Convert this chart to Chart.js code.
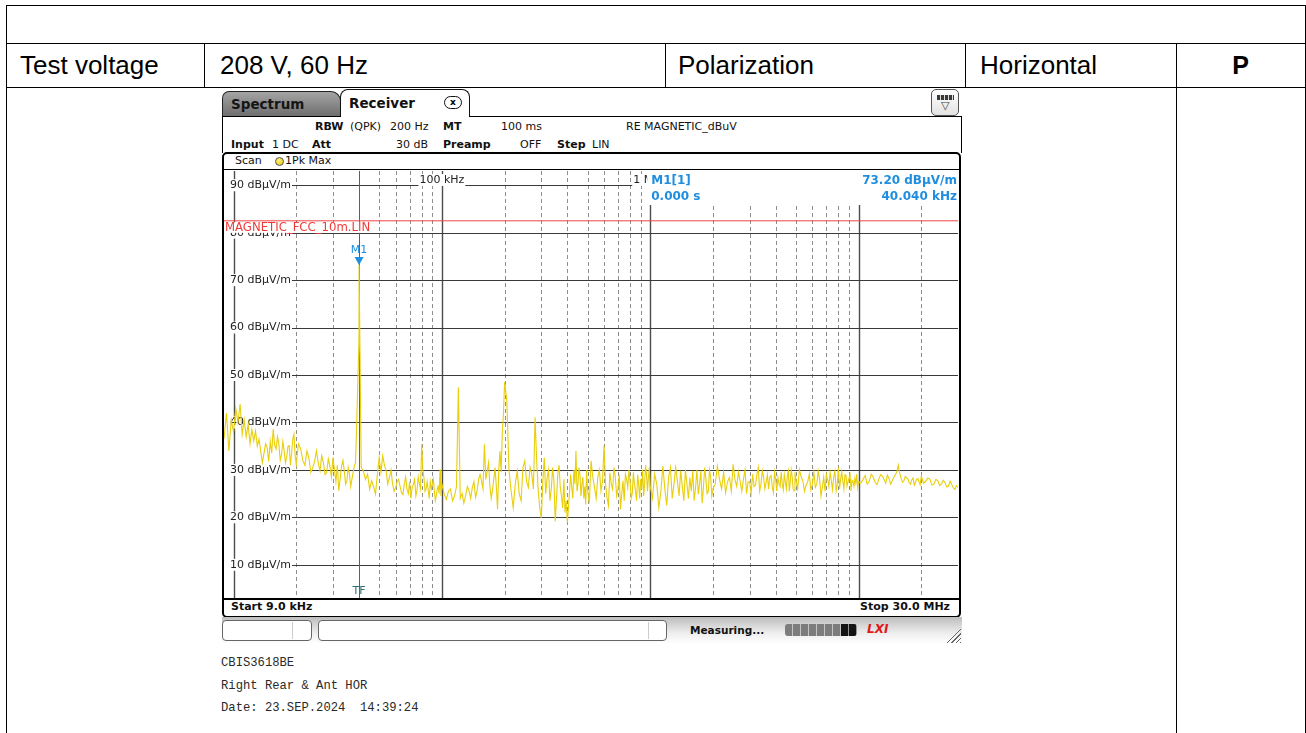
<!DOCTYPE html>
<html>
<head>
<meta charset="utf-8">
<title>RE magnetic scan</title>
<script src="https://cdn.jsdelivr.net/npm/chart.js@4.4.1/dist/chart.umd.min.js"></script>
<style>
  html, body { margin: 0; padding: 0; background: #fff; }
  body { position: relative; width: 1306px; height: 733px; overflow: hidden; }
  .rule { position: absolute; background: #000; }
  .cell { position: absolute; font: 26px/30px "Liberation Sans", Arial, sans-serif; color: #000; white-space: nowrap; }
  .ui { position: absolute; font: 11px/14px "DejaVu Sans", Verdana, sans-serif; color: #111; white-space: nowrap; }
  .ui.b { font-weight: bold; }
  .note { position: absolute; left: 221px; font: 12.2px/14px "Liberation Mono", "Courier New", monospace; color: #2a2a2a; white-space: pre; }
  .box { position: absolute; box-sizing: border-box; }
  #plot { position: absolute; left: 224px; top: 171px; }
</style>
</head>
<body>

<!-- report table -->
<div class="rule" style="left:6px;top:5px;width:1300px;height:1px"></div>
<div class="rule" style="left:6px;top:43px;width:1300px;height:1px"></div>
<div class="rule" style="left:6px;top:87px;width:1300px;height:1px"></div>
<div class="rule" style="left:6px;top:5px;width:1px;height:728px"></div>
<div class="rule" style="left:1305px;top:5px;width:1px;height:728px"></div>
<div class="rule" style="left:204px;top:43px;width:1px;height:44px"></div>
<div class="rule" style="left:665px;top:43px;width:1px;height:44px"></div>
<div class="rule" style="left:965px;top:43px;width:1px;height:44px"></div>
<div class="rule" style="left:1176px;top:43px;width:1px;height:690px"></div>

<div class="cell" style="left:20px;top:50px">Test voltage</div>
<div class="cell" style="left:220px;top:50px">208 V, 60 Hz</div>
<div class="cell" style="left:678px;top:50px">Polarization</div>
<div class="cell" style="left:980px;top:50px">Horizontal</div>
<div class="cell" style="left:1176px;top:50px;width:129px;text-align:center;font-weight:bold;font-size:25px">P</div>

<!-- receiver screen: tabs -->
<div class="box" style="left:222px;top:91px;width:119px;height:26px;border:1px solid #222;border-bottom:none;border-radius:7px 10px 0 0;background:linear-gradient(#a4a4a4,#6c6c6c)"></div>
<div class="ui b" style="left:231px;top:96px;font-size:13.5px;line-height:16px;color:#151515">Spectrum</div>
<div class="box" style="left:340px;top:89px;width:130px;height:28px;border:1px solid #111;border-bottom:none;border-radius:8px 8px 0 0;background:#fff"></div>
<div class="ui b" style="left:349px;top:95px;font-size:13.5px;line-height:16px">Receiver</div>
<div class="box" style="left:444px;top:96px;width:18px;height:13px;border:1px solid #111;border-radius:7px;font:bold 9px/11px 'DejaVu Sans',sans-serif;text-align:center">x</div>
<div class="rule" style="left:222px;top:116px;width:119px;height:1px"></div>
<div class="rule" style="left:469px;top:116px;width:493px;height:1px"></div>
<div class="rule" style="left:222px;top:116px;width:1px;height:37px"></div>
<div class="rule" style="left:961px;top:116px;width:1px;height:37px"></div>
<div class="box" style="left:931px;top:89px;width:28px;height:27px;border:1px solid #555;border-radius:5px;background:linear-gradient(#fff,#e2e2e2)"></div>
<div class="box" style="left:937px;top:95px;width:17px;height:5px;background:repeating-linear-gradient(90deg,#3a3a3a 0 3px,#ddd 3px 4px)"></div>
<div class="ui" style="left:941px;top:100px;font-size:11px;line-height:12px;color:#444">▽</div>

<!-- receiver settings -->
<div class="ui b" style="left:315px;top:120px">RBW</div>
<div class="ui" style="left:350px;top:120px">(QPK)</div>
<div class="ui" style="left:390px;top:120px">200 Hz</div>
<div class="ui b" style="left:443px;top:120px">MT</div>
<div class="ui" style="left:501px;top:120px">100 ms</div>
<div class="ui" style="left:626px;top:120px">RE MAGNETIC_dBuV</div>
<div class="ui b" style="left:231px;top:138px">Input</div>
<div class="ui" style="left:272px;top:138px">1 DC</div>
<div class="ui b" style="left:312px;top:138px">Att</div>
<div class="ui" style="left:396px;top:138px">30 dB</div>
<div class="ui b" style="left:443px;top:138px">Preamp</div>
<div class="ui" style="left:520px;top:138px">OFF</div>
<div class="ui b" style="left:557px;top:138px">Step</div>
<div class="ui" style="left:592px;top:138px">LIN</div>

<!-- scan window -->
<div class="box" style="left:222px;top:152px;width:739px;height:466px;border:2px solid #000;border-radius:5px"></div>
<div class="ui" style="left:235px;top:154px">Scan</div>
<div class="box" style="left:275px;top:157px;width:9px;height:9px;border:1px solid #555;border-radius:50%;background:radial-gradient(circle at 40% 35%,#fff27a,#e2c400)"></div>
<div class="ui" style="left:285px;top:154px">1Pk Max</div>
<div class="rule" style="left:224px;top:169px;width:735px;height:1px"></div>
<canvas id="plot" width="734" height="427"></canvas>
<div class="rule" style="left:224px;top:598px;width:735px;height:2px"></div>
<div class="ui b" style="left:231px;top:600px">Start 9.0 kHz</div>
<div class="ui b" style="right:356px;top:600px">Stop 30.0 MHz</div>

<!-- status bar -->
<div class="box" style="left:222px;top:617px;width:740px;height:27px;background:linear-gradient(#bdbdbd,#eeeeee 60%,#fff)"></div>
<div class="box" style="left:222px;top:620px;width:90px;height:21px;border:1px solid #666;border-radius:4px;background:#fff"></div>
<div class="box" style="left:292px;top:622px;width:1px;height:17px;background:#ccc"></div>
<div class="box" style="left:318px;top:620px;width:349px;height:21px;border:1px solid #666;border-radius:4px;background:#fff"></div>
<div class="box" style="left:648px;top:622px;width:1px;height:17px;background:#ccc"></div>
<div class="ui b" style="left:690px;top:623px;font-size:10.5px">Measuring...</div>
<div class="box" style="left:785px;top:624px;width:72px;height:12px;border-radius:3px;background:repeating-linear-gradient(90deg,transparent 0 7px,rgba(255,255,255,.55) 7px 8px),linear-gradient(90deg,#7c7c7c 0 56px,#141414 56px)"></div>
<div class="ui b" style="left:867px;top:622px;font-size:12px;font-style:italic;color:#e01818">LXI</div>
<div class="box" style="left:946px;top:628px;width:15px;height:15px;background:repeating-linear-gradient(135deg,transparent 0 2px,#666 2px 3px);clip-path:polygon(100% 0,100% 100%,0 100%)"></div>

<div class="note" style="top:656px">CBIS3618BE</div>
<div class="note" style="top:679px">Right Rear &amp; Ant HOR</div>
<div class="note" style="top:701px">Date: 23.SEP.2024  14:39:24</div>

<script>
// frequency in kHz, level in dBuV/m (1Pk Max trace)
const scanLow = [
  [9, 36.5], [9.25, 42.0], [9.5, 34.0], [9.75, 40.5], [10, 38.0], [10.25, 43.0], [10.5, 40.0], [10.75, 43.9],
  [11, 37.5], [11.25, 40.5], [11.5, 37.0], [11.75, 39.6], [12, 35.5], [12.25, 38.5], [12.5, 36.1], [12.75, 38.2],
  [13, 35.0], [13.25, 36.5], [13.5, 34.0], [13.75, 31.5], [14, 33.5], [14.25, 35.5], [14.5, 34.7], [14.75, 31.8],
  [15, 36.0], [15.25, 33.5], [15.5, 38.6], [15.75, 35.2], [16, 34.4], [16.25, 37.0], [16.5, 35.5], [16.75, 32.0],
  [17, 33.3], [17.25, 36.0], [17.5, 34.0], [17.75, 31.5], [18, 32.8], [18.25, 35.0], [18.5, 35.1], [18.75, 31.0],
  [19, 33.5], [19.25, 36.5], [19.5, 37.5], [19.75, 33.0], [20, 31.2], [20.5, 35.5], [21, 34.4], [21.5, 32.0],
  [22, 31.0], [22.5, 34.0], [23, 32.5], [23.5, 29.5], [24, 30.5], [24.5, 31.8], [25, 34.0], [25.5, 31.5],
  [26, 29.8], [26.5, 33.0], [27, 31.5], [27.5, 29.0], [28, 29.5], [28.5, 32.3], [29, 30.8], [29.5, 28.5],
  [30, 32.6], [30.5, 30.0], [31, 27.5], [31.5, 31.0], [32, 25.6], [32.5, 28.2], [33, 30.8], [33.5, 32.0],
  [34, 29.8], [34.5, 27.0], [35, 27.7], [35.5, 30.5], [36, 29.1], [36.5, 26.5], [37, 28.0], [37.5, 29.5],
  [38, 30.8], [38.5, 31.5], [39, 39.6], [40, 57.5], [40.04, 73.2], [41, 30.5], [42, 29.8], [43, 28.0],
  [44, 29.1], [45, 25.9], [46, 27.7], [47, 26.5], [48, 24.9], [49, 29.0], [50, 32.6], [51, 29.5],
  [52, 33.0], [53, 31.0], [54, 29.8], [55, 27.0], [56, 28.4], [57, 30.0], [58, 27.0], [59, 25.5],
  [60, 26.3], [61, 27.5], [62, 28.0], [63, 26.5], [64, 25.2], [65, 24.8], [66, 27.0], [67, 28.5],
  [68, 25.9], [69, 25.0], [70, 27.5], [71, 24.0], [72, 26.3], [73, 27.0], [74, 28.0], [75, 24.5],
  [76, 25.8], [77, 28.5], [78, 27.0], [79, 26.0], [80, 35.4], [81, 30.0], [82, 28.4], [83, 25.5],
  [84, 26.0], [85, 27.5], [86, 25.6], [87, 24.0], [88, 27.5], [89, 26.0], [90, 27.0], [91, 28.0],
  [92, 25.5], [93, 23.5], [94, 24.5], [95, 26.0], [96, 26.5], [97, 25.0], [98, 30.1], [99, 24.5]
];
const scanMid = [
  [100, 27.0], [102.5, 25.0], [105, 23.8], [107.5, 25.5], [110, 26.0], [112.5, 23.5], [115, 24.5], [117.5, 26.5],
  [120, 47.4], [122.5, 24.0], [125, 25.0], [127.5, 23.0], [130, 24.5], [132.5, 26.5], [135, 25.6], [137.5, 24.0],
  [140, 26.3], [142.5, 27.5], [145, 24.2], [147.5, 25.5], [150, 28.0], [152.5, 29.0], [155, 27.7], [157.5, 26.0],
  [160, 35.4], [162.5, 28.0], [165, 29.8], [167.5, 31.5], [170, 26.5], [172.5, 24.0], [175, 25.9], [177.5, 28.0],
  [180, 30.5], [182.5, 26.5], [185, 21.7], [187.5, 30.0], [190, 34.0], [192.5, 29.5], [195, 38.0], [197.5, 42.0],
  [200, 48.5], [205, 44.6], [210, 29.8], [215, 25.5], [220, 22.0], [225, 27.0], [230, 29.8], [235, 25.0],
  [240, 23.5], [245, 30.5], [250, 31.9], [255, 27.5], [260, 26.3], [265, 30.5], [270, 29.1], [275, 26.0],
  [280, 41.1], [285, 32.0], [290, 25.6], [295, 22.0], [300, 19.9], [305, 27.5], [310, 32.6], [315, 25.0],
  [320, 28.4], [325, 30.0], [330, 23.5], [335, 26.0], [340, 30.5], [345, 27.5], [350, 19.2], [355, 24.0],
  [360, 29.1], [365, 31.0], [370, 26.3], [375, 24.5], [380, 22.0], [385, 28.0], [390, 21.0], [395, 23.5],
  [400, 18.9], [405, 22.0], [410, 25.6], [415, 29.0], [420, 26.3], [425, 24.0], [430, 30.0], [435, 27.0],
  [440, 34.0], [445, 25.5], [450, 27.0], [455, 30.5], [460, 29.0], [465, 24.5], [470, 27.0], [475, 28.5],
  [480, 24.0], [485, 26.5], [490, 22.7], [495, 30.0], [500, 26.0], [510, 23.0], [520, 31.9], [530, 28.5],
  [540, 26.3], [550, 24.0], [560, 28.4], [570, 30.0], [580, 25.6], [590, 27.5], [600, 35.1], [610, 27.0],
  [620, 24.2], [630, 22.5], [640, 29.4], [650, 27.0], [660, 25.9], [670, 30.5], [680, 28.4], [690, 24.5],
  [700, 26.0], [710, 29.0], [720, 21.7], [730, 25.0], [740, 27.7], [750, 23.5], [760, 29.1], [770, 28.0],
  [780, 26.3], [790, 30.0], [800, 27.7], [810, 24.0], [820, 25.0], [830, 29.5], [840, 27.0], [850, 25.5],
  [860, 23.5], [870, 29.0], [880, 27.0], [890, 24.0], [900, 28.0], [910, 26.0], [920, 30.1], [930, 24.5],
  [940, 27.0], [950, 31.0], [960, 29.0], [970, 25.5], [980, 28.4], [990, 30.5]
];
const scanHigh = [
  [1000, 26.5], [1025, 24.0], [1050, 29.1], [1075, 27.0], [1100, 22.0], [1125, 25.5], [1150, 30.8], [1175, 26.0],
  [1200, 22.5], [1225, 28.5], [1250, 30.5], [1275, 24.0], [1300, 27.0], [1325, 30.5], [1350, 27.7], [1375, 24.5],
  [1400, 29.8], [1425, 26.5], [1450, 23.5], [1475, 30.0], [1500, 27.0], [1525, 24.0], [1550, 28.4], [1575, 25.5],
  [1600, 29.8], [1625, 23.5], [1650, 26.3], [1675, 30.0], [1700, 24.9], [1725, 27.0], [1750, 29.8], [1775, 23.0],
  [1800, 26.3], [1825, 30.5], [1850, 28.0], [1875, 25.0], [1900, 25.5], [1925, 30.0], [1950, 28.5], [1975, 24.5],
  [2000, 26.0], [2050, 27.0], [2100, 30.8], [2150, 28.0], [2200, 26.0], [2250, 29.5], [2300, 25.2], [2350, 27.5],
  [2400, 28.4], [2450, 25.5], [2500, 31.2], [2550, 28.0], [2600, 26.5], [2650, 29.5], [2700, 27.7], [2750, 25.5],
  [2800, 28.0], [2850, 30.0], [2900, 25.0], [2950, 27.5], [3000, 27.5], [3050, 25.0], [3100, 29.1], [3150, 26.5],
  [3200, 26.8], [3250, 29.0], [3300, 30.5], [3350, 25.5], [3400, 27.0], [3450, 29.8], [3500, 28.5], [3550, 26.0],
  [3600, 27.3], [3650, 29.0], [3700, 26.0], [3750, 28.5], [3800, 28.8], [3850, 26.5], [3900, 25.2], [3950, 29.5],
  [4000, 28.0], [4050, 25.5], [4100, 28.4], [4150, 27.0], [4200, 26.5], [4250, 29.5], [4300, 27.0], [4350, 25.8],
  [4400, 29.0], [4450, 27.5], [4500, 26.0], [4550, 28.8], [4600, 29.8], [4650, 25.5], [4700, 27.5], [4750, 30.0],
  [4800, 28.6], [4850, 26.0], [4900, 25.6], [4950, 29.5], [5000, 28.0], [5100, 26.0], [5200, 30.1], [5300, 28.5],
  [5400, 27.7], [5500, 25.5], [5600, 26.8], [5700, 27.5], [5800, 29.1], [5900, 25.8], [6000, 27.0], [6100, 29.5],
  [6200, 26.3], [6300, 27.0], [6400, 29.8], [6500, 28.0], [6600, 24.5], [6700, 26.3], [6800, 28.5], [6900, 25.5],
  [7000, 29.1], [7100, 28.0], [7200, 26.5], [7300, 29.5], [7400, 27.7], [7500, 25.8], [7600, 28.6], [7700, 29.8],
  [7800, 25.6], [7900, 27.0], [8000, 30.5], [8100, 26.0], [8200, 28.0], [8300, 29.6], [8400, 27.7], [8500, 26.0],
  [8600, 29.0], [8700, 28.8], [8800, 26.6], [8900, 27.5], [9000, 28.3], [9100, 29.0], [9200, 25.6], [9300, 27.8],
  [9400, 27.5], [9500, 26.5], [9600, 28.2], [9700, 27.2], [9800, 29.1], [9900, 26.3], [10000, 27.5], [10250, 27.2],
  [10500, 28.0], [10750, 28.8], [11000, 27.0], [11250, 27.6], [11500, 29.1], [11750, 28.5], [12000, 27.4], [12250, 26.9],
  [12500, 28.0], [12750, 29.0], [13000, 28.7], [13250, 28.0], [13500, 27.2], [13750, 28.9], [14000, 28.2], [14250, 27.0],
  [14500, 27.7], [14750, 28.4], [15000, 29.0], [15250, 29.6], [15500, 31.0], [15750, 29.3], [16000, 28.2], [16250, 27.4],
  [16500, 27.7], [16750, 28.6], [17000, 28.3], [17250, 28.1], [17500, 27.3], [17750, 27.0], [18000, 27.9], [18250, 28.3],
  [18500, 26.8], [18750, 27.4], [19000, 28.0], [19250, 28.2], [19500, 27.5], [19750, 26.9], [20000, 28.7], [20500, 27.2],
  [21000, 27.6], [21500, 28.3], [22000, 28.0], [22500, 26.8], [23000, 27.0], [23500, 28.0], [24000, 27.7], [24500, 26.7],
  [25000, 27.1], [25500, 27.8], [26000, 27.3], [26500, 26.4], [27000, 26.6], [27500, 27.6], [28000, 26.9], [28500, 26.2],
  [29000, 25.9], [29500, 26.7], [30000, 26.3]
];

const startKHz = 9, stopKHz = 30000;
const refTop = 93, refBottom = 3;
const levelTicks = [90, 80, 70, 60, 50, 40, 30, 20, 10];
const decadeTicks = [10, 100, 1000, 10000];
const minorTicks = [20, 30, 40, 50, 60, 70, 80, 90, 200, 300, 400, 500, 600, 700, 800, 900,
                    2000, 3000, 4000, 5000, 6000, 7000, 8000, 9000, 20000];
const freqTickValues = [100, 1000, 10000];
const freqTickLabels = ['100 kHz', '1 MHz', '10 MHz'];

const limitName = 'MAGNETIC_FCC_10m.LIN';
const limitLevel = 82.5;

const markerName = 'M1';
const markerFreq = 40.04;
const markerLevel = 73.2;

const FONT = '11px "DejaVu Sans", Verdana, sans-serif';
const FONT_LIMIT = '11.7px "DejaVu Sans", Verdana, sans-serif';
const FONT_B = 'bold 12px "DejaVu Sans", Verdana, sans-serif';

function toPoints(rows) {
  return rows.map(([f, v]) => ({ x: f, y: v }));
}

const scanPoints = toPoints(scanLow.concat(scanMid, scanHigh));
const limitPoints = [{ x: startKHz, y: limitLevel }, { x: stopKHz, y: limitLevel }];

function vline(ctx, px, top, bottom) {
  ctx.beginPath(); ctx.moveTo(px, top); ctx.lineTo(px, bottom); ctx.stroke();
}
function hline(ctx, py, left, right) {
  ctx.beginPath(); ctx.moveTo(left, py); ctx.lineTo(right, py); ctx.stroke();
}
function boxedText(ctx, text, x, cy, color, align, bgFrom) {
  ctx.textAlign = align || 'left';
  const w = ctx.measureText(text).width;
  const x0 = align === 'center' ? x - w / 2 : x;
  const bx = bgFrom !== undefined ? bgFrom : x0 - 1;
  ctx.fillStyle = '#fff';
  ctx.fillRect(bx, cy - 6, x0 + w + 1 - bx, 12);
  ctx.fillStyle = color;
  ctx.fillText(text, x, cy);
}

// grid, level labels and frequency labels, all placed with the chart scales
const screenGrid = {
  id: 'screenGrid',
  beforeDatasetsDraw(chart) {
    const { ctx, chartArea: a, scales: { x, y } } = chart;
    ctx.save();
    ctx.lineWidth = 1;
    ctx.strokeStyle = '#8e8e8e';
    ctx.setLineDash([4, 3]);
    minorTicks.forEach(f => vline(ctx, Math.round(x.getPixelForValue(f)) + 0.5, a.top, a.bottom));
    ctx.setLineDash([]);
    ctx.strokeStyle = '#4d4d4d';
    ctx.lineWidth = 1.4;
    decadeTicks.forEach(f => vline(ctx, Math.round(x.getPixelForValue(f)) + 0.5, a.top, a.bottom));
    ctx.strokeStyle = '#3a3a3a';
    ctx.lineWidth = 1.2;
    levelTicks.forEach(v => hline(ctx, Math.round(y.getPixelForValue(v)) + 0.5, a.left, a.right));

    // marker line
    ctx.strokeStyle = '#2f7278';
    ctx.lineWidth = 1;
    vline(ctx, Math.round(x.getPixelForValue(markerFreq)) + 0.5, a.top, a.bottom);

    ctx.font = FONT;
    ctx.textBaseline = 'middle';
    levelTicks.forEach(v => boxedText(ctx, v + ' dBµV/m', a.left + 6, y.getPixelForValue(v), '#222', 'left', a.left));
    freqTickValues.forEach((f, i) => boxedText(ctx, freqTickLabels[i], x.getPixelForValue(f), a.top + 9, '#222', 'center'));

    // limit line name
    const ly = y.getPixelForValue(limitLevel);
    ctx.font = FONT_LIMIT;
    ctx.textAlign = 'left';
    const lw = ctx.measureText(limitName).width;
    ctx.fillStyle = '#fff';
    ctx.fillRect(a.left, ly + 1.5, lw + 3, 10.5);
    ctx.fillStyle = '#f03a3a';
    ctx.fillText(limitName, a.left + 1, ly + 7);
    ctx.restore();
  },
  afterDatasetsDraw(chart) {
    const { ctx, chartArea: a, scales: { x, y } } = chart;
    const mx = x.getPixelForValue(markerFreq);
    const my = y.getPixelForValue(markerLevel);
    ctx.save();
    ctx.fillStyle = '#1f8ee0';
    ctx.beginPath();
    ctx.moveTo(mx - 4.5, my - 8);
    ctx.lineTo(mx + 4.5, my - 8);
    ctx.lineTo(mx, my);
    ctx.closePath();
    ctx.fill();
    ctx.font = FONT;
    ctx.textAlign = 'center';
    ctx.textBaseline = 'middle';
    ctx.fillText(markerName, mx, my - 15);
    ctx.fillStyle = '#2f7278';
    ctx.fillText('TF', mx, a.bottom - 7);

    // marker readout
    const bx = x.getPixelForValue(1000) - 3;
    ctx.fillStyle = '#fff';
    ctx.fillRect(bx, a.top, a.right - bx, 34);
    ctx.font = FONT_B;
    ctx.fillStyle = '#1f8ee0';
    ctx.textAlign = 'left';
    ctx.fillText(markerName + '[1]', bx + 4, a.top + 10);
    ctx.fillText('0.000 s', bx + 4, a.top + 26);
    ctx.textAlign = 'right';
    ctx.fillText(markerLevel.toFixed(2) + ' dBµV/m', a.right - 1, a.top + 10);
    ctx.fillText(markerFreq.toFixed(3) + ' kHz', a.right - 1, a.top + 26);
    ctx.restore();
  }
};

const chart = new Chart(document.getElementById('plot'), {
  type: 'line',
  data: {
    datasets: [
      { label: limitName, data: limitPoints, borderColor: '#f04545', borderWidth: 1, pointRadius: 0 },
      { label: '1Pk Max', data: scanPoints, borderColor: '#e8cf0a', borderWidth: 1.1, pointRadius: 0, tension: 0 }
    ]
  },
  options: {
    responsive: false,
    animation: false,
    layout: { padding: 0 },
    plugins: { legend: { display: false }, tooltip: { enabled: false } },
    scales: {
      x: { type: 'logarithmic', min: startKHz, max: stopKHz, display: false },
      y: { type: 'linear', min: refBottom, max: refTop, display: false }
    }
  },
  plugins: [screenGrid]
});
</script>
</body>
</html>
